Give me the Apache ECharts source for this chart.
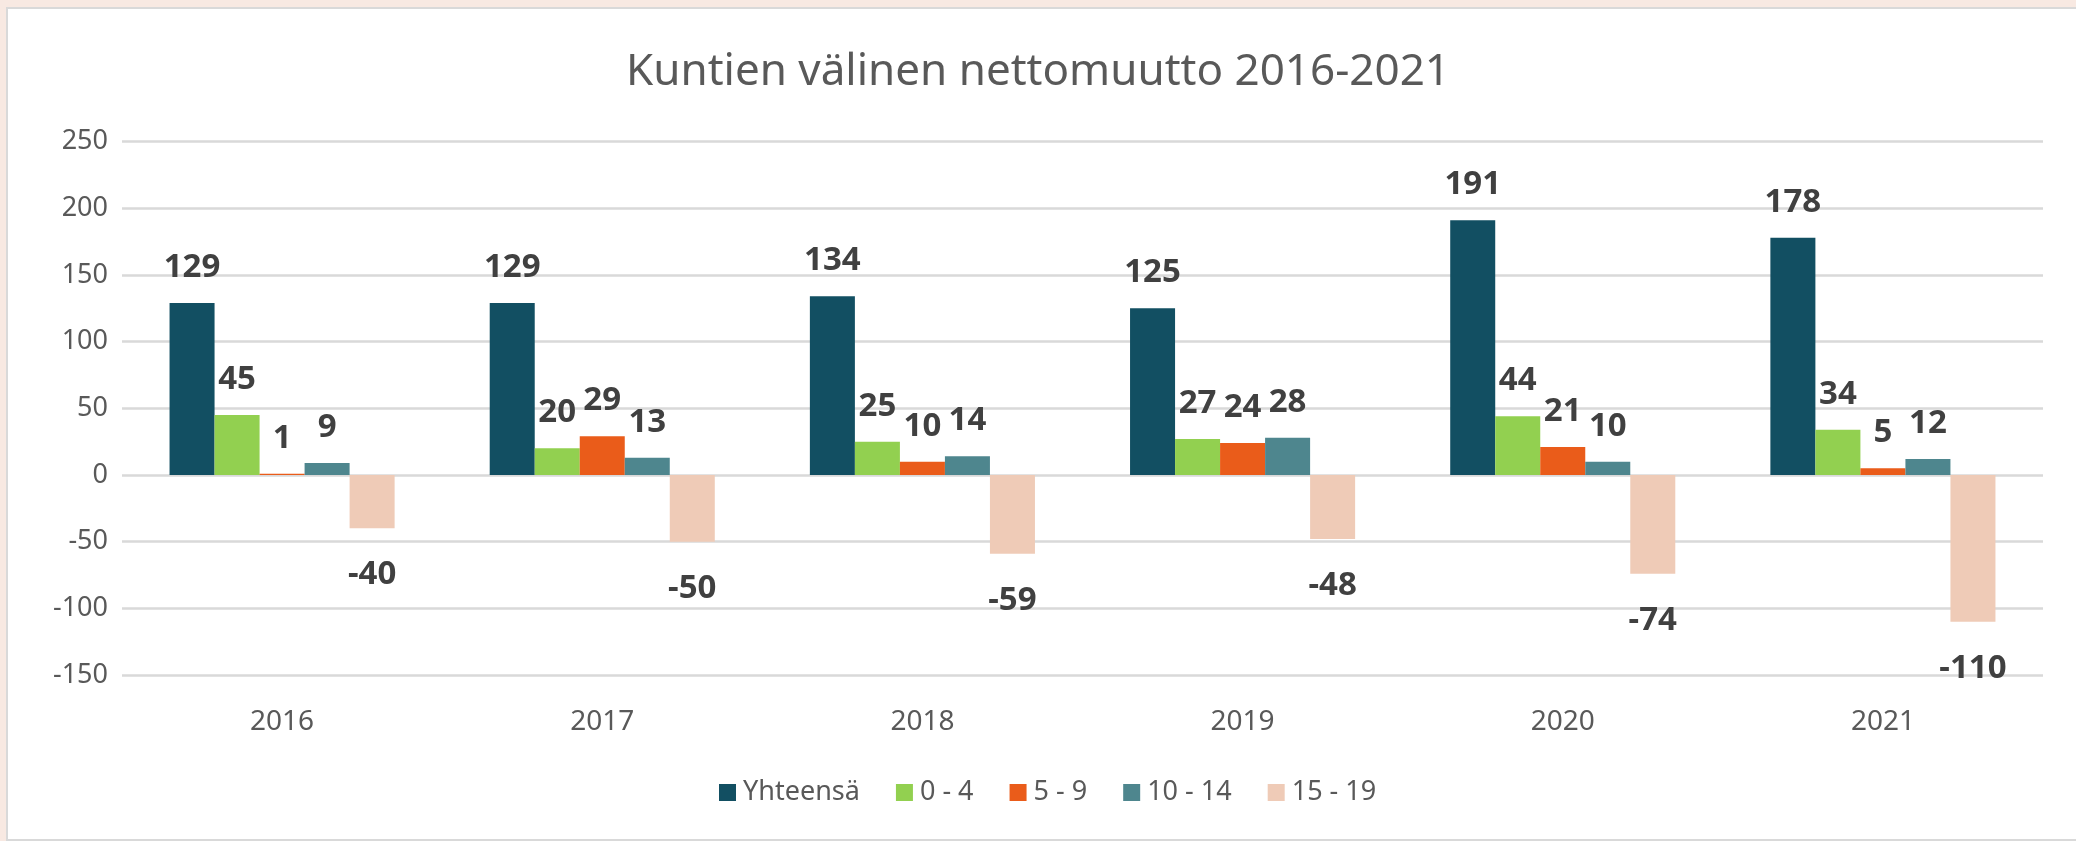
<!DOCTYPE html>
<html>
<head>
<meta charset="utf-8">
<script src="https://cdn.jsdelivr.net/npm/echarts@6/dist/echarts.min.js"></script>
<style>
  html, body { margin: 0; padding: 0; background: #f8e9e2; overflow: hidden; }
  .panel {
    position: absolute; left: 6px; top: 7px; width: 2080px; height: 830px;
    background: #fff; border: 2px solid #d9d9d9;
  }
  #chart { position: absolute; left: 0; top: 0; width: 2076px; height: 841px; }
</style>
</head>
<body>
<div class="panel"></div>
<div id="chart"></div>
<script>
const years = ['2016', '2017', '2018', '2019', '2020', '2021']
const yhteensa = [129, 129, 134, 125, 191, 178]
const age0to4 = [45, 20, 25, 27, 44, 34]
const age5to9 = [1, 29, 10, 24, 21, 5]
const age10to14 = [9, 13, 14, 28, 10, 12]
const age15to19 = [-40, -50, -59, -48, -74, -110]

const seriesNames = ['Yhteensä', '0 - 4', '5 - 9', '10 - 14', '15 - 19']
const seriesValues = [yhteensa, age0to4, age5to9, age10to14, age15to19]
const colors = ['#124f62', '#92d050', '#ea5c1a', '#4e868e', '#efcbb7']

const font = '"Noto Sans", "Open Sans", sans-serif'

const chart = echarts.init(document.getElementById('chart'))

function toBarData(values) {
  // labels sit outside the bar end: above positive, below negative
  return values.map(v => ({
    value: v,
    label: v < 0 ? { position: 'bottom', distance: 30 } : { position: 'top', distance: 19 }
  }))
}

chart.setOption({
  animation: false,
  color: colors,
  title: {
    text: 'Kuntien välinen nettomuutto 2016-2021',
    left: 'center',
    top: 45,
    textStyle: { fontFamily: font, fontSize: 44, fontWeight: 'normal', color: '#595959' }
  },
  legend: {
    data: seriesNames,
    left: 714,
    top: 774,
    itemWidth: 17,
    itemHeight: 17,
    itemGap: 36,
    icon: 'rect',
    textStyle: { fontFamily: font, fontSize: 27, color: '#595959', padding: [0, 0, 0, 2] }
  },
  grid: { left: 122, right: 33, top: 141.7, bottom: 166, containLabel: false },
  xAxis: {
    type: 'category',
    data: years,
    axisLine: { show: false, onZero: false },
    axisTick: { show: false },
    axisLabel: { margin: 33, fontFamily: font, fontSize: 28, color: '#595959' }
  },
  yAxis: {
    type: 'value',
    min: -150,
    max: 250,
    interval: 50,
    axisLine: { show: false },
    axisTick: { show: false },
    axisLabel: { margin: 14, fontFamily: font, fontSize: 27, color: '#595959' },
    splitLine: { lineStyle: { color: '#d9d9d9', width: 2.5 } }
  },
  series: seriesNames.map((name, i) => ({
    name,
    type: 'bar',
    data: toBarData(seriesValues[i]),
    barGap: '0%',
    barCategoryGap: '29.7%',
    itemStyle: { color: colors[i] },
    label: {
      show: true,
      fontFamily: font,
      fontSize: 33,
      fontWeight: 'bold',
      color: '#404040'
    }
  }))
})

window.addEventListener('resize', () => chart.resize())
</script>
</body>
</html>
